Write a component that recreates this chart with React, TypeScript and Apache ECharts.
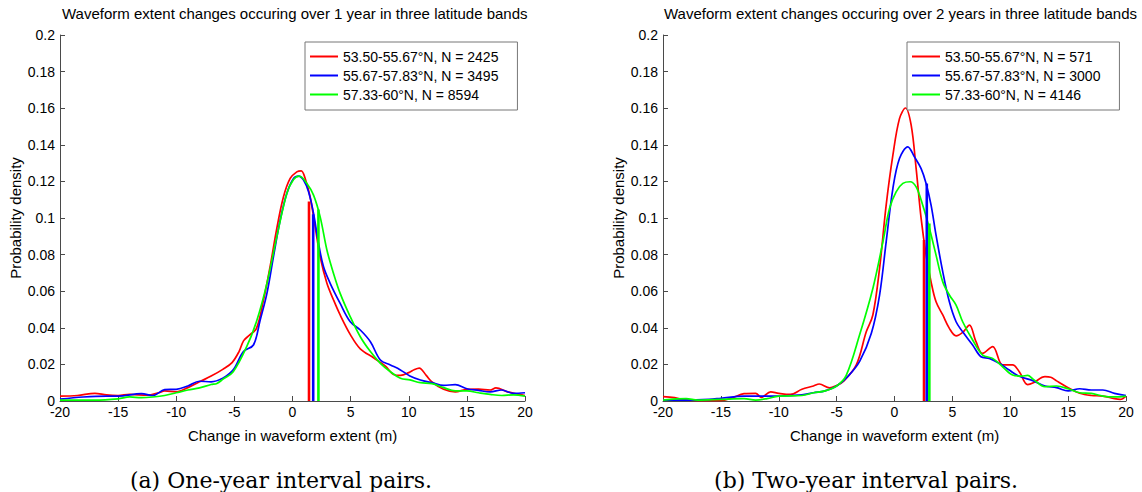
import React, { useEffect, useRef } from "react";
import * as echarts from "echarts";

const TITLE_1 = "Waveform extent changes occuring over 1 year in three latitude bands";
const TITLE_2 = "Waveform extent changes occuring over 2 years in three latitude bands";
const X_NAME = "Change in waveform extent (m)";
const Y_NAME = "Probability density";
const CAPTION_1 = "(a) One-year interval pairs.";
const CAPTION_2 = "(b) Two-year interval pairs.";

const NAMES_1 = ["53.50-55.67°N, N = 2425", "55.67-57.83°N, N = 3495", "57.33-60°N, N = 8594"];
const NAMES_2 = ["53.50-55.67°N, N = 571", "55.67-57.83°N, N = 3000", "57.33-60°N, N = 4146"];
const COLORS = ["#ff0000", "#0000ff", "#00ff00"];

// One-year panel: [change (m), density]
const red1 = [[-20,0.0027],[-18.5,0.003],[-17,0.0042],[-16,0.0033],[-15,0.003],[-14,0.0036],[-12.5,0.0032],[-11.5,0.0045],[-11,0.0055],[-10,0.005],[-9,0.0073],[-8,0.0105],[-7,0.0136],[-6,0.0173],[-5.2,0.021],[-4.6,0.027],[-4.2,0.033],[-3.7,0.036],[-3.1,0.0397],[-2.5,0.055],[-1.93,0.0733],[-1.35,0.0943],[-0.78,0.1115],[-0.2,0.1216],[0.37,0.1252],[0.75,0.1258],[1.09,0.1216],[1.52,0.1115],[1.95,0.0952],[2.38,0.0788],[2.96,0.0643],[3.53,0.0552],[4.1,0.047],[5.0,0.036],[5.83,0.0285],[7.0,0.0235],[8.0,0.019],[8.7,0.0145],[9.3,0.014],[10.0,0.0155],[10.5,0.0172],[10.9,0.018],[11.5,0.014],[12,0.0104],[13,0.0064],[14,0.005],[15,0.0064],[16,0.0065],[17,0.006],[17.5,0.0072],[18.5,0.005],[19.5,0.0036],[20,0.003]];
const blue1 = [[-20,0.001],[-18,0.0022],[-16,0.0027],[-15,0.0027],[-13,0.004],[-12,0.003],[-11,0.0062],[-10,0.0064],[-9,0.0082],[-8,0.0108],[-7,0.0105],[-6,0.0125],[-5.1,0.017],[-4.22,0.027],[-3.36,0.0306],[-2.79,0.044],[-2.2,0.0588],[-1.64,0.0788],[-1.06,0.0988],[-0.49,0.1134],[0.09,0.1216],[0.52,0.1229],[0.95,0.1207],[1.38,0.1143],[1.81,0.1025],[2.24,0.0861],[2.67,0.0733],[3.24,0.0643],[4.1,0.0533],[4.97,0.0433],[5.83,0.0388],[6.7,0.0324],[7.56,0.0224],[8.42,0.0197],[9.28,0.017],[10.1,0.0137],[11,0.0115],[12,0.01],[13,0.0085],[14,0.009],[15,0.0067],[16,0.0058],[17,0.005],[18,0.006],[19,0.0042],[20,0.0045]];
const green1 = [[-20,0.0005],[-17,0.0005],[-15,0.0012],[-14,0.0022],[-13,0.0018],[-12,0.0022],[-11,0.003],[-10,0.0045],[-9,0.006],[-8,0.0072],[-7,0.009],[-6.5,0.0096],[-6,0.0118],[-5.1,0.016],[-3.94,0.0297],[-3.07,0.044],[-2.2,0.0643],[-1.35,0.0897],[-0.49,0.1134],[0.09,0.121],[0.58,0.1229],[1.24,0.1189],[1.81,0.1125],[2.38,0.1006],[2.96,0.0825],[3.53,0.0697],[4.1,0.0588],[4.97,0.046],[5.83,0.0351],[6.7,0.027],[7.56,0.0206],[8.42,0.016],[9.28,0.0124],[10.1,0.0115],[11,0.01],[12,0.0095],[13,0.0073],[14,0.0055],[15,0.0055],[16,0.0045],[17,0.0036],[18,0.003],[19,0.0034],[20,0.0027]];

// Two-year panel
const red2 = [[-20,0.0024],[-19,0.0018],[-18,0.0005],[-15,0.0002],[-14,0.0018],[-13,0.004],[-12,0.0042],[-11.5,0.002],[-10.7,0.005],[-10,0.0042],[-9,0.0036],[-8,0.0064],[-7,0.0082],[-6.5,0.0093],[-5.6,0.0072],[-5,0.0085],[-4.45,0.0105],[-3.3,0.0197],[-2.44,0.0378],[-1.87,0.047],[-1.29,0.0725],[-0.72,0.107],[-0.14,0.1343],[0.43,0.1543],[0.95,0.1601],[1.44,0.1507],[1.87,0.127],[2.3,0.0998],[2.73,0.0797],[3.16,0.0651],[3.59,0.0542],[4.17,0.047],[4.74,0.0397],[5.32,0.0356],[5.89,0.0375],[6.47,0.0415],[7.04,0.0324],[7.61,0.026],[8.48,0.0297],[9.34,0.0197],[10.2,0.0197],[10.78,0.016],[11.5,0.009],[12,0.01],[13,0.0133],[13.5,0.013],[14,0.011],[15,0.0073],[16,0.0042],[17,0.003],[18,0.0027],[19,0.0013],[19.5,0.0009],[20,0.0027]];
const blue2 = [[-20,0.0005],[-18,0.0005],[-16,0.0009],[-15,0.0015],[-13,0.0027],[-10,0.0027],[-8,0.0033],[-7,0.0045],[-6,0.0055],[-5,0.0082],[-4,0.0136],[-3,0.0218],[-2,0.037],[-1.29,0.0579],[-0.72,0.087],[-0.14,0.1161],[0.43,0.1325],[1.15,0.1389],[1.72,0.1334],[2.3,0.127],[2.73,0.1189],[3.16,0.107],[3.59,0.0906],[4.17,0.0706],[4.74,0.0542],[5.32,0.0433],[5.89,0.0378],[6.75,0.0306],[7.47,0.0242],[8.19,0.0233],[9.05,0.0206],[9.91,0.0169],[10.78,0.0135],[12,0.011],[13,0.0082],[14,0.0073],[15,0.0055],[16,0.0067],[17,0.006],[18,0.006],[19,0.0042],[20,0.003]];
const green2 = [[-20,0.0005],[-18,0.0013],[-17,0.0005],[-15,0.0009],[-13,0.0013],[-12,0.0005],[-11,0.0013],[-10,0.0027],[-8,0.003],[-7,0.0045],[-6,0.0055],[-5,0.0082],[-4.17,0.014],[-3.02,0.036],[-1.87,0.0615],[-1.0,0.087],[-0.43,0.1052],[0.14,0.1143],[0.72,0.1189],[1.35,0.1198],[1.87,0.117],[2.44,0.107],[3.02,0.0943],[3.59,0.0797],[4.17,0.0651],[4.74,0.0579],[5.32,0.0524],[5.89,0.0433],[6.75,0.0333],[7.61,0.0251],[8.48,0.0233],[9.34,0.0187],[10.2,0.0142],[11,0.0136],[11.5,0.014],[12,0.0118],[13,0.0078],[14,0.0082],[15,0.0067],[16,0.0045],[17,0.0042],[18,0.0027],[19,0.0022],[20,0.0027]];

// Vertical marker lines: [position (m), height]
const markers1 = [[1.42, 0.109], [1.78, 0.102], [2.23, 0.1046]];
const markers2 = [[2.55, 0.088], [2.79, 0.1189], [3.01, 0.097]];

const X_MIN = -20, X_MAX = 20, X_STEP = 5;
const Y_MIN = 0, Y_MAX = 0.2, Y_STEP = 0.02;

const FONT = "'Liberation Sans', Arial, Helvetica, sans-serif";
const AXIS_COLOR = "#4a4a4a";

function axesFor(idx: number) {
  const x = {
    type: "value", gridIndex: idx, min: X_MIN, max: X_MAX, interval: X_STEP,
    name: X_NAME, nameLocation: "middle", nameGap: 27,
    nameTextStyle: { fontSize: 15, color: "#000", fontFamily: FONT },
    axisLine: { show: true, onZero: false, lineStyle: { color: AXIS_COLOR, width: 1 } },
    axisTick: { show: true, inside: true, length: 5, lineStyle: { color: AXIS_COLOR } },
    axisLabel: { fontSize: 14, color: "#000", margin: 4, fontFamily: FONT },
    splitLine: { show: false },
  };
  const y = {
    type: "value", gridIndex: idx, min: Y_MIN, max: Y_MAX, interval: Y_STEP,
    name: Y_NAME, nameLocation: "middle", nameGap: 37, nameRotate: 90,
    nameTextStyle: { fontSize: 15, color: "#000", fontFamily: FONT },
    axisLine: { show: true, onZero: false, lineStyle: { color: AXIS_COLOR, width: 1 } },
    axisTick: { show: true, inside: true, length: 5, lineStyle: { color: AXIS_COLOR } },
    axisLabel: { fontSize: 14, color: "#000", margin: 5, fontFamily: FONT,
      formatter: (v: number) => String(+v.toFixed(2)) },
    splitLine: { show: false },
  };
  return { x, y };
}

function curveSeries(name: string, data: number[][], color: string, idx: number) {
  return {
    type: "line", name, data, xAxisIndex: idx, yAxisIndex: idx,
    symbol: "none", smooth: 0.35, color,
    lineStyle: { color, width: 1.7 }, z: 2,
  };
}

function markerSeries(m: number[], color: string, idx: number, k: number) {
  return {
    type: "line", name: `marker-${idx}-${k}`, data: [[m[0], 0], [m[0], m[1]]],
    xAxisIndex: idx, yAxisIndex: idx, symbol: "none", color,
    lineStyle: { color, width: 2.6 }, z: 3,
  };
}

function legendFor(names: string[], left: number) {
  return {
    data: names.map((n) => ({ name: n, icon: "rect" })),
    orient: "vertical", left, top: 42,
    itemWidth: 28, itemHeight: 2, itemGap: 4,
    padding: [7, 19, 8, 5],
    backgroundColor: "#fff", borderColor: "#777", borderWidth: 1, borderRadius: 0,
    textStyle: { fontSize: 14, color: "#000", fontFamily: FONT, lineHeight: 15 },
    selectedMode: false,
  };
}

export default function App() {
  const ref = useRef<HTMLDivElement>(null);
  useEffect(() => {
    if (!ref.current) return;
    const chart = echarts.init(ref.current, null, { renderer: "svg" });
    const a1 = axesFor(0);
    const a2 = axesFor(1);
    const curves1 = [red1, blue1, green1];
    const curves2 = [red2, blue2, green2];
    const series: any[] = [];
    curves1.forEach((d, i) => series.push(curveSeries(NAMES_1[i], d, COLORS[i], 0)));
    curves2.forEach((d, i) => series.push(curveSeries(NAMES_2[i], d, COLORS[i], 1)));
    markers1.forEach((m, i) => series.push(markerSeries(m, COLORS[i], 0, i)));
    markers2.forEach((m, i) => series.push(markerSeries(m, COLORS[i], 1, i)));

    const titleStyle = {
      fontSize: 15, fontWeight: "normal", color: "#000", fontFamily: FONT,
      width: 472, overflow: "truncate", ellipsis: "",
    };
    const capStyle = { fontSize: 22, fontFamily: "'DejaVu Serif', serif", fill: "#000", textAlign: "center", textVerticalAlign: "middle" };

    chart.setOption({
      animation: false,
      backgroundColor: "#fff",
      textStyle: { fontFamily: FONT },
      title: [
        { text: TITLE_1, left: 62, top: 6, padding: 0, textStyle: titleStyle },
        { text: TITLE_2, left: 664, top: 6, padding: 0, textStyle: { ...titleStyle, width: 495 } },
      ],
      grid: [
        { left: 60, top: 35, width: 465, height: 366, containLabel: false },
        { left: 663, top: 35, width: 463, height: 366, containLabel: false },
      ],
      xAxis: [a1.x, a2.x],
      yAxis: [a1.y, a2.y],
      legend: [legendFor(NAMES_1, 305), legendFor(NAMES_2, 907)],
      series,
      graphic: [
        { type: "text", x: 281, y: 480, style: { ...capStyle, text: CAPTION_1 } },
        { type: "text", x: 866, y: 480, style: { ...capStyle, text: CAPTION_2 } },
      ],
    });
    return () => chart.dispose();
  }, []);
  return <div ref={ref} style={{ position: "absolute", left: 0, top: 0, width: 1142, height: 492 }} />;
}
